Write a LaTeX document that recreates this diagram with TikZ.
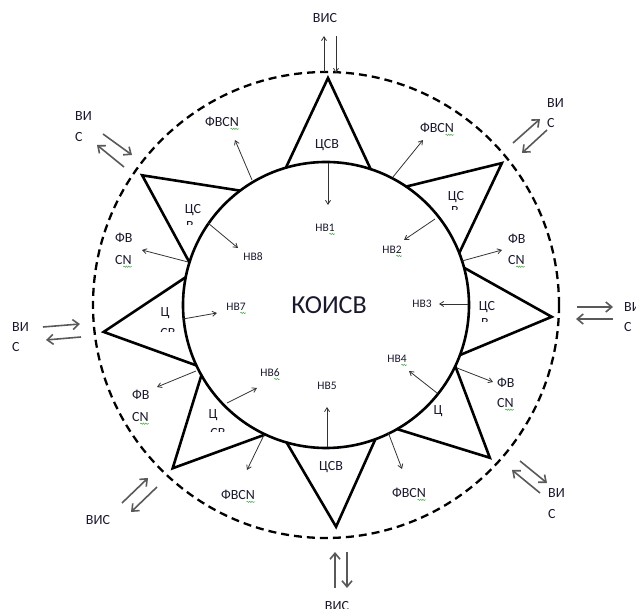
\documentclass[tikz,border=0pt]{standalone}
\usepackage{fontspec}
\setmainfont{Carlito}
\usetikzlibrary{arrows.meta,calc,decorations.pathmorphing}
\definecolor{txt}{RGB}{25,25,45}
\definecolor{spell}{RGB}{70,170,70}
\newcommand\conn[4]{\coordinate (#1s) at (#3);\coordinate (#1e) at (#4);\draw[#2] (#1s) -- (#1e);}
\newcommand\frag[4]{\begin{scope}\clip (#2-12,#3+5.5) rectangle (#2+12,#3+10);
  \node[tri,anchor=base] (#1) at (#2,#3) {#4};\end{scope}}
\newcommand\squig[2]{\draw[squigsty] ($(#1.base east)+(-#2,-2.2)$) -- ($(#1.base east)+(0,-2.2)$);}
\begin{document}
\begin{tikzpicture}[x=1pt,y=1pt,
  lab/.style={font=\fontsize{11.5}{13}\selectfont, text=txt, inner sep=0pt},
  big/.style={font=\fontsize{14}{16}\selectfont, text=txt, inner sep=0pt},
  tri/.style={font=\fontsize{14}{16}\selectfont, text=txt, inner sep=0pt},
  ring/.style={line width=2.6pt},
  dashring/.style={line width=2.3pt, dash pattern=on 8pt off 5pt},
  tside/.style={line width=2.6pt, line cap=round},
  thin/.style={draw=black!80, line width=0.8pt, -{Straight Barb[length=4pt,width=5pt]}},
  thick/.style={draw=black!65, line width=1.6pt, -{Straight Barb[length=6pt,width=10pt]}},
  squigsty/.style={draw=spell, line width=0.5pt, decorate, decoration={snake,amplitude=0.7pt,segment length=2.4pt}},
  ]
\useasboundingbox (0,0) rectangle (636,609);
\coordinate (C) at (326,304);
\draw[ring] (C) circle[radius=143];
\draw[dashring] (C) circle[radius=233];
\foreach \n/\a/\r/\b/\c in {1/89.5/227/106.3/71.8, 2/38.9/226/55.9/21.3, 3/-3/226/15.1/-20.5, 4/-43/224/-25.3/-60.2, 5/-87.4/222/-106/-69.8, 6/226.8/224/209.4/244.9, 7/186.9/224/168.8/205, 8/144.8/225/126.9/162.7}{
  \coordinate (ta\n) at ($(C)+(\a:\r)$);
  \coordinate (tb\n) at ($(C)+(\b:143)$);
  \coordinate (tc\n) at ($(C)+(\c:143)$);
  \draw[tside] (tb\n) -- (ta\n) -- (tc\n);
}
% connectors
\conn{v1u}{thin}{324,537}{324,573}
\conn{v1d}{thin}{336,573}{336,536}
\conn{n1}{thin}{328,446}{328,404}
\conn{f1}{thin}{252,429}{235,469}
\conn{f2}{thin}{393,432}{423,469}
\conn{n2}{thin}{435,390}{404,369}
\conn{v2o}{thick}{513,466}{540,490}
\conn{v2i}{thick}{547,479}{522,456}
\conn{f3}{thin}{462,348}{502,359}
\conn{n3}{thin}{468,305}{439,305}
\conn{v3o}{thick}{577,302}{613,302}
\conn{v3i}{thick}{613,290}{576,290}
\conn{f4}{thin}{457,241}{493,227}
\conn{n4}{thin}{437,216}{409,238}
\conn{f5}{thin}{388,177}{402,140}
\conn{v4o}{thick}{520,148}{547,126}
\conn{v4i}{thick}{540,116}{512,139}
\conn{n5}{thin}{327,162}{327,202}
\conn{v5u}{thick}{335,21}{335,57}
\conn{v5d}{thick}{347,57}{347,21}
\conn{f6}{thin}{264,174}{247,139}
\conn{n6}{thin}{227,206}{257,221}
\conn{v6o}{thick}{122,106}{148,131}
\conn{v6i}{thick}{157,122}{131,97}
\conn{f7}{thin}{196,238}{157,222}
\conn{n7}{thin}{183,290}{217,296}
\conn{v7o}{thick}{43,282}{80,285}
\conn{v7i}{thick}{81,272}{46,269}
\conn{f8}{thin}{188,347}{142,359}
\conn{n8}{thin}{208,386}{238,361}
\conn{v8o}{thick}{103,475}{132,454}
\conn{v8i}{thick}{124,442}{97,464}
% centre
\node[font=\fontsize{26}{30}\selectfont, text=txt] (koisv) at (329,304) {КОИСВ};
% НВ labels
\node[lab] (nv1) at (325,381) {НВ1};
\node[lab] (nv2) at (392,359) {НВ2};
\node[lab] (nv3) at (422,305) {НВ3};
\node[lab] (nv4) at (397,250) {НВ4};
\node[lab] (nv5) at (327,223) {НВ5};
\node[lab] (nv6) at (270,236) {НВ6};
\node[lab] (nv7) at (236,302) {НВ7};
\node[lab] (nv8) at (253,352) {НВ8};
\foreach \m in {nv1,nv2,nv4,nv6,nv7}{\squig{\m}{5.6}}
% ФВСN labels
\node[big] (fs1) at (222,487) {ФВСN};
\node[big] (fs2) at (437,481) {ФВСN};
\node[big] (fs5) at (409,116) {ФВСN};
\node[big] (fs6) at (238,114) {ФВСN};
\node[big,anchor=west] (fa3) at (508,370) {ФВ};
\node[big,anchor=west] (fb3) at (508,349) {СN};
\node[big,anchor=west] (fa4) at (497,226) {ФВ};
\node[big,anchor=west] (fb4) at (497,206) {СN};
\node[big,anchor=west] (fa7) at (132,214) {ФВ};
\node[big,anchor=west] (fb7) at (132,192) {СN};
\node[big,anchor=west] (fa8) at (115,371) {ФВ};
\node[big,anchor=west] (fb8) at (115,349) {СN};
\foreach \m in {fs1,fs2,fs5,fs6,fb3,fb4,fb7,fb8}{\squig{\m}{8.6}}
% ВИС labels
\node[big] (vis1) at (325,591) {ВИС};
\node[big,anchor=west] (vis2a) at (547,506) {ВИ};
\node[big,anchor=west] (vis2b) at (547,486) {С};
\node[big,anchor=west] (vis3a) at (624,302) {ВИ};
\node[big,anchor=west] (vis3b) at (624,282) {С};
\node[big,anchor=west] (vis4a) at (548,116) {ВИ};
\node[big,anchor=west] (vis4b) at (548,95) {С};
\node[big] (vis5) at (337,3) {ВИС};
\node[big] (vis6) at (98,89) {ВИС};
\node[big,anchor=west] (vis7a) at (12,282) {ВИ};
\node[big,anchor=west] (vis7b) at (12,262) {С};
\node[big,anchor=west] (vis8a) at (75,493) {ВИ};
\node[big,anchor=west] (vis8b) at (75,472) {С};
% triangle labels
\node[tri] (t1) at (327,464) {ЦСВ};
\node[tri] (t5) at (331,142) {ЦСВ};
\node[tri] (t2) at (456,412) {ЦС};
\frag{t2f}{455}{393.5}{В}
\node[tri] (t3) at (487,302) {ЦС};
\frag{t3f}{485}{281.5}{В}
\node[tri] (t4) at (438,198) {Ц};
\node[tri] (t6) at (213,194) {Ц};
\frag{t6f}{218}{171.5}{СВ}
\node[tri] (t7) at (165,296) {Ц};
\frag{t7f}{168}{271.5}{СВ}
\node[tri] (t8) at (193,399) {ЦС};
\frag{t8f}{190}{378.5}{В}
\end{tikzpicture}
\end{document}
